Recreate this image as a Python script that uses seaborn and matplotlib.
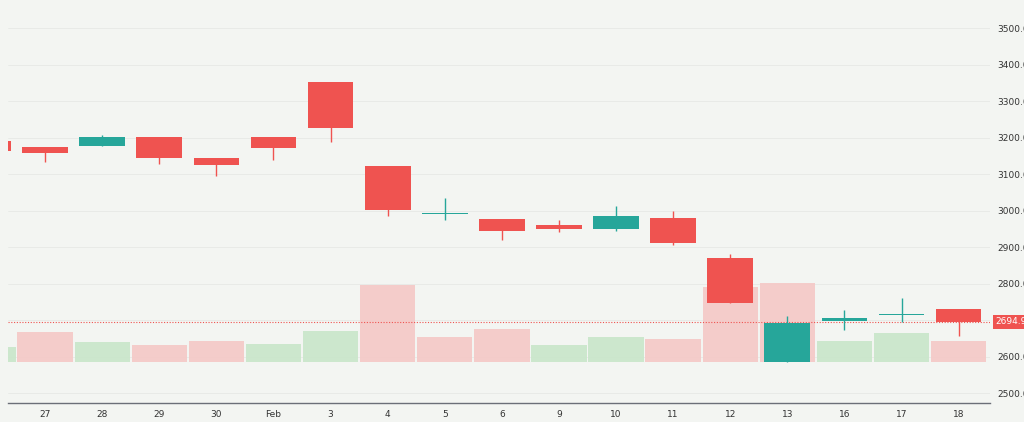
import matplotlib
matplotlib.use("Agg")
import matplotlib.pyplot as plt
import matplotlib.transforms as mt
import seaborn as sns
import numpy as np
import pandas as pd

labels = ["", "27", "28", "29", "30", "Feb", "3", "4", "5", "6", "9", "10", "11", "12", "13", "16", "17", "18"]
opens  = [3190, 3174, 3177, 3201, 3144, 3201, 3352, 3122, 2990, 2977, 2960, 2949, 2979, 2870, 2585, 2697, 2714, 2730]
closes = [3163, 3158, 3201, 3144, 3125, 3171, 3226, 3001, 2993, 2944, 2949, 2985, 2911, 2747, 2692, 2706, 2716, 2695]
highs  = [3195, 3174, 3207, 3201, 3144, 3201, 3352, 3122, 3034, 2977, 2974, 3012, 2999, 2881, 2711, 2727, 2760, 2730]
lows   = [3160, 3133, 3177, 3127, 3095, 3138, 3188, 2985, 2974, 2919, 2941, 2945, 2905, 2747, 2585, 2673, 2695, 2656]
volume = [15, 30, 20, 17, 21, 18, 31, 77, 25, 33, 17, 25, 23, 75, 79, 21, 29, 21]
vol_up = [True, False, True, False, False, True, True, False, False, False, True, True, False, False, False, True, True, False]
last_price = 2694.9

sns.set_theme(style="white")
plt.rcParams['font.family'] = ['DejaVu Sans']
BG = "#f3f5f2"
RED, GREEN = "#ef5350", "#26a69a"

x = np.arange(len(labels)) - 1
df = pd.DataFrame({"x": x, "o": opens, "c": closes, "h": highs, "l": lows, "v": volume, "up": vol_up})

fig = plt.figure(figsize=(10.24, 4.22), dpi=100, facecolor=BG)
ax = fig.add_axes([8/1024, 19/422, 982/1024, 403/422])
ax.set_facecolor(BG)
axv = ax.twinx()
ax.set_zorder(2); ax.patch.set_visible(False)
axv.set_zorder(1); axv.set_facecolor(BG)

tr = mt.blended_transform_factory(axv.transAxes, ax.transData)
for p in range(2500, 3600, 100):
    axv.plot([0, 1], [p, p], transform=tr, color="#e6e9e6", lw=0.6, zorder=0)

vcol = ["#c8e6c9" if u else "#f5c8c6" for u in df.up]
axv.bar(df.x, df.v, width=0.97, color=vcol, alpha=0.9, linewidth=0, zorder=1)
axv.set_ylim(-41, 362)
axv.set_yticks([])
for s in axv.spines.values(): s.set_visible(False)

for _, r in df.iterrows():
    col = GREEN if r.c >= r.o else RED
    ax.vlines(r.x, r.l, r.h, color=col, lw=1, zorder=3)
    lo, hi = min(r.o, r.c), max(r.o, r.c)
    ax.bar(r.x, max(hi - lo, 2), bottom=lo, width=0.8, color=col, linewidth=0, zorder=4)

ax.axhline(last_price, color=RED, lw=0.8, ls=(0, (1, 1.5)), zorder=2)
ax.set_xlim(-0.65, 16.55)
ax.set_ylim(2473, 3577)
ax.set_xticks(x[1:])
ax.set_xticklabels(labels[1:], fontsize=6.5, color="#333333")
ax.tick_params(axis="x", length=0, pad=5)
ax.yaxis.tick_right()
ax.set_yticks(range(2500, 3600, 100))
ax.set_yticklabels([f"{p:.1f}" for p in range(2500, 3600, 100)], fontsize=6.5, color="#333333")
ax.tick_params(axis="y", length=0, pad=5)
for k in ["top", "left", "right"]:
    ax.spines[k].set_visible(False)
ax.spines["bottom"].set_color("#6b6f78")
ax.spines["bottom"].set_linewidth(1)
ax.text(1.005, last_price, f"{last_price:.1f}", transform=ax.get_yaxis_transform(), fontsize=6.5,
        color="white", va="center", ha="left", clip_on=False,
        bbox=dict(boxstyle="square,pad=0.25", fc=RED, ec="none"))
fig.savefig("out.png", dpi=100, facecolor=BG)
